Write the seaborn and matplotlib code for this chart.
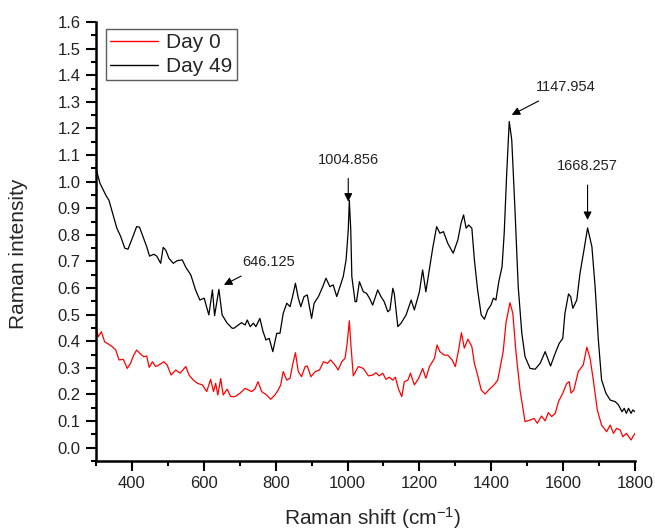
import numpy as np
import pandas as pd
import matplotlib
matplotlib.use("Agg")
import matplotlib.pyplot as plt
import seaborn as sns
from matplotlib.ticker import MultipleLocator, FixedLocator

# ---- data ----
day49_x = [300, 311, 327, 336, 345, 358, 369, 380, 389, 401, 413, 421, 434, 441, 449, 461, 469, 480,
           487, 494, 503, 515, 526, 540, 550, 564, 577, 589, 601, 614, 624, 630, 642, 651, 665, 679,
           684, 696, 705, 715, 721, 729, 738, 745, 756, 765, 773, 782, 792, 798, 803, 812, 821, 831,
           840, 847, 855, 863, 870, 879, 888, 900, 907, 919, 931, 940, 951, 960, 970, 979, 988, 996,
           1002, 1005, 1009, 1012, 1021, 1025, 1033, 1044, 1053, 1061, 1070, 1084, 1093, 1102, 1112,
           1118, 1126, 1130, 1140, 1149, 1163, 1177, 1186, 1200, 1209, 1218, 1226, 1237, 1248, 1257,
           1267, 1279, 1294, 1307, 1316, 1323, 1330, 1337, 1346, 1353, 1362, 1372, 1381, 1390, 1399,
           1406, 1413, 1421, 1430, 1436, 1443, 1450, 1457, 1466, 1475, 1485, 1494, 1508, 1522, 1536,
           1550, 1565, 1578, 1589, 1599, 1605, 1615, 1621, 1627, 1638, 1647, 1658, 1668, 1680, 1689,
           1698, 1707, 1719, 1731, 1745, 1754, 1764, 1770, 1776, 1782, 1789, 1794, 1800]
day49_y = [1.05, 0.994, 0.95, 0.93, 0.887, 0.825, 0.793, 0.75, 0.746, 0.787, 0.831, 0.829, 0.781, 0.756,
           0.72, 0.727, 0.72, 0.693, 0.753, 0.743, 0.712, 0.693, 0.703, 0.706, 0.678, 0.649, 0.593,
           0.555, 0.562, 0.499, 0.593, 0.496, 0.595, 0.499, 0.468, 0.449, 0.449, 0.461, 0.47, 0.461,
           0.48, 0.455, 0.468, 0.455, 0.486, 0.436, 0.405, 0.411, 0.361, 0.398, 0.43, 0.43, 0.505,
           0.543, 0.53, 0.568, 0.618, 0.562, 0.53, 0.568, 0.574, 0.486, 0.543, 0.568, 0.605, 0.637,
           0.605, 0.612, 0.568, 0.605, 0.643, 0.706, 0.818, 0.93, 0.818, 0.643, 0.549, 0.549, 0.624,
           0.586, 0.58, 0.562, 0.536, 0.593, 0.568, 0.549, 0.511, 0.518, 0.599, 0.58, 0.455, 0.468,
           0.499, 0.555, 0.518, 0.586, 0.668, 0.586, 0.656, 0.75, 0.831, 0.806, 0.812, 0.768, 0.731,
           0.781, 0.844, 0.875, 0.825, 0.837, 0.825, 0.706, 0.593, 0.499, 0.483, 0.518, 0.536, 0.562,
           0.555, 0.624, 0.68, 0.806, 1.032, 1.226, 1.157, 0.894, 0.605, 0.43, 0.342, 0.298, 0.295,
           0.317, 0.361, 0.307, 0.355, 0.392, 0.411, 0.505, 0.578, 0.568, 0.524, 0.555, 0.656, 0.743,
           0.826, 0.756, 0.605, 0.405, 0.255, 0.205, 0.179, 0.173, 0.161, 0.135, 0.148, 0.129, 0.148,
           0.129, 0.142, 0.135]

day0_x = [300, 306, 315, 324, 334, 345, 355, 364, 376, 387, 396, 405, 413, 424, 433, 441, 448, 457,
          466, 475, 489, 498, 509, 522, 534, 550, 559, 571, 582, 596, 608, 619, 627, 633, 639, 647,
          654, 665, 675, 687, 701, 715, 724, 733, 742, 751, 761, 775, 786, 798, 807, 814, 821, 831,
          840, 847, 855, 863, 872, 882, 888, 898, 910, 922, 933, 944, 953, 965, 974, 984, 993, 999,
          1005, 1009, 1016, 1030, 1044, 1058, 1070, 1079, 1088, 1098, 1107, 1116, 1126, 1133, 1142,
          1151, 1158, 1168, 1175, 1186, 1198, 1209, 1218, 1228, 1242, 1249, 1257, 1269, 1279, 1291,
          1300, 1309, 1317, 1325, 1335, 1346, 1353, 1362, 1372, 1383, 1395, 1408, 1418, 1427, 1433,
          1441, 1452, 1460, 1469, 1480, 1494, 1508, 1519, 1528, 1540, 1550, 1559, 1568, 1578, 1587,
          1599, 1610, 1617, 1622, 1630, 1642, 1656, 1666, 1675, 1684, 1695, 1707, 1721, 1731, 1740,
          1749, 1759, 1766, 1776, 1789, 1794, 1800]
day0_y = [0.457, 0.417, 0.436, 0.398, 0.39, 0.38, 0.367, 0.33, 0.332, 0.298, 0.317, 0.348, 0.367, 0.352,
          0.342, 0.345, 0.302, 0.323, 0.305, 0.311, 0.323, 0.311, 0.273, 0.292, 0.28, 0.305, 0.273,
          0.254, 0.242, 0.236, 0.211, 0.257, 0.211, 0.242, 0.198, 0.26, 0.198, 0.22, 0.192, 0.192,
          0.205, 0.223, 0.217, 0.211, 0.22, 0.248, 0.211, 0.198, 0.182, 0.198, 0.217, 0.236, 0.286,
          0.254, 0.261, 0.311, 0.357, 0.286, 0.267, 0.305, 0.307, 0.267, 0.286, 0.292, 0.323, 0.317,
          0.33, 0.311, 0.292, 0.323, 0.336, 0.392, 0.477, 0.392, 0.27, 0.305, 0.298, 0.27, 0.273,
          0.282, 0.27, 0.28, 0.257, 0.265, 0.254, 0.265, 0.22, 0.192, 0.248, 0.254, 0.28, 0.236, 0.261,
          0.298, 0.261, 0.305, 0.336, 0.386, 0.361, 0.348, 0.348, 0.33, 0.305, 0.367, 0.432, 0.374,
          0.408, 0.38, 0.317, 0.273, 0.217, 0.202, 0.22, 0.236, 0.254, 0.317, 0.36, 0.47, 0.545, 0.505,
          0.355, 0.217, 0.098, 0.104, 0.11, 0.092, 0.119, 0.101, 0.132, 0.117, 0.129, 0.173, 0.205,
          0.242, 0.248, 0.205, 0.217, 0.286, 0.311, 0.378, 0.336, 0.254, 0.142, 0.085, 0.06, 0.085,
          0.054, 0.073, 0.066, 0.041, 0.054, 0.029, 0.041, 0.054]

series_names = ["Day 0", "Day 49"]
series_colors = ["#ff0000", "#000000"]

x_major = [400, 600, 800, 1000, 1200, 1400, 1600, 1800]
y_major = [0.0, 0.1, 0.2, 0.3, 0.4, 0.5, 0.6, 0.7, 0.8, 0.9, 1.0, 1.1, 1.2, 1.3, 1.4, 1.5, 1.6]

peak_labels = ["646.125", "1004.856", "1147.954", "1668.257"]
peak_tips = [(656, 0.612), (1002, 0.925), (1457, 1.251), (1668, 0.856)]
peak_texts = [(781, 0.698), (1002, 1.082), (1608, 1.356), (1668, 1.057)]

# ---- build long-form table ----
df = pd.concat([
    pd.DataFrame({"x": day0_x, "y": day0_y, "series": series_names[0]}),
    pd.DataFrame({"x": day49_x, "y": day49_y, "series": series_names[1]}),
], ignore_index=True)

sns.set_style("white")
plt.rcParams.update({
    "font.family": ["Liberation Sans", "DejaVu Sans"],
    "mathtext.fontset": "custom",
    "mathtext.rm": "Liberation Sans",
    "mathtext.it": "Liberation Sans:italic",
    "axes.linewidth": 1.8,
    "axes.edgecolor": "black",
    "xtick.bottom": True, "ytick.left": True,
    "xtick.direction": "out", "ytick.direction": "out",
    "xtick.major.size": 7, "ytick.major.size": 7,
    "xtick.major.width": 1.5, "ytick.major.width": 1.5,
    "xtick.minor.size": 3.8, "ytick.minor.size": 3.8,
    "xtick.minor.width": 1.5, "ytick.minor.width": 1.5,
    "xtick.color": "black", "ytick.color": "black",
})

fig = plt.figure(figsize=(6.55, 5.31), dpi=100)
ax = fig.add_axes([96 / 655, 1 - 461 / 531, (635 - 96) / 655, (461 - 22) / 531])

sns.lineplot(data=df, x="x", y="y", hue="series", hue_order=series_names,
             palette=dict(zip(series_names, series_colors)), estimator=None,
             sort=False, linewidth=0.9, ax=ax)

ax.set_xlim(300, 1800)
ax.set_ylim(-0.05, 1.6)
ax.xaxis.set_major_locator(FixedLocator(x_major))
ax.xaxis.set_minor_locator(MultipleLocator(100))
ax.yaxis.set_major_locator(FixedLocator(y_major))
ax.yaxis.set_minor_locator(MultipleLocator(0.05))
ax.set_yticklabels([f"{v:.1f}" for v in y_major])
ax.set_xticklabels([str(v) for v in x_major])

for s in ["top", "right"]:
    ax.spines[s].set_visible(False)

ax.tick_params(which="major", direction="out", length=7, width=1.5, labelsize=12,
               labelcolor="#222222", color="black", pad=4,
               left=True, bottom=True)
ax.tick_params(which="minor", direction="out", length=3.8, width=1.5, color="black",
               left=True, bottom=True)

ax.set_xlabel("Raman shift (cm$^{-1}$)", fontsize=15)
ax.set_ylabel("Raman intensity", fontsize=15)
ax.xaxis.set_label_coords((372 - 96) / 539, -0.1)
ax.yaxis.set_label_coords((28 - 96) / 539, (461 - 254) / 439)

for lab, tip, txt in zip(peak_labels, peak_tips, peak_texts):
    ax.annotate(lab, xy=tip, xytext=txt, fontsize=10.5, ha="center", va="center",
                color="#222222",
                arrowprops=dict(arrowstyle="-|>", color="black", lw=0.8,
                                mutation_scale=12, shrinkA=6, shrinkB=0))

leg = ax.legend(loc="upper left", bbox_to_anchor=(105.7 / 655, 1 - 28.7 / 531),
                bbox_transform=fig.transFigure, borderaxespad=0, fontsize=15,
                frameon=True, fancybox=False, edgecolor="#333333",
                handlelength=2.3, handletextpad=0.4, borderpad=0.2,
                labelspacing=0.25, title=None)
leg.get_frame().set_linewidth(1.0)
for line in leg.get_lines():
    line.set_linewidth(1.0)

fig.savefig("out.png", dpi=100)
